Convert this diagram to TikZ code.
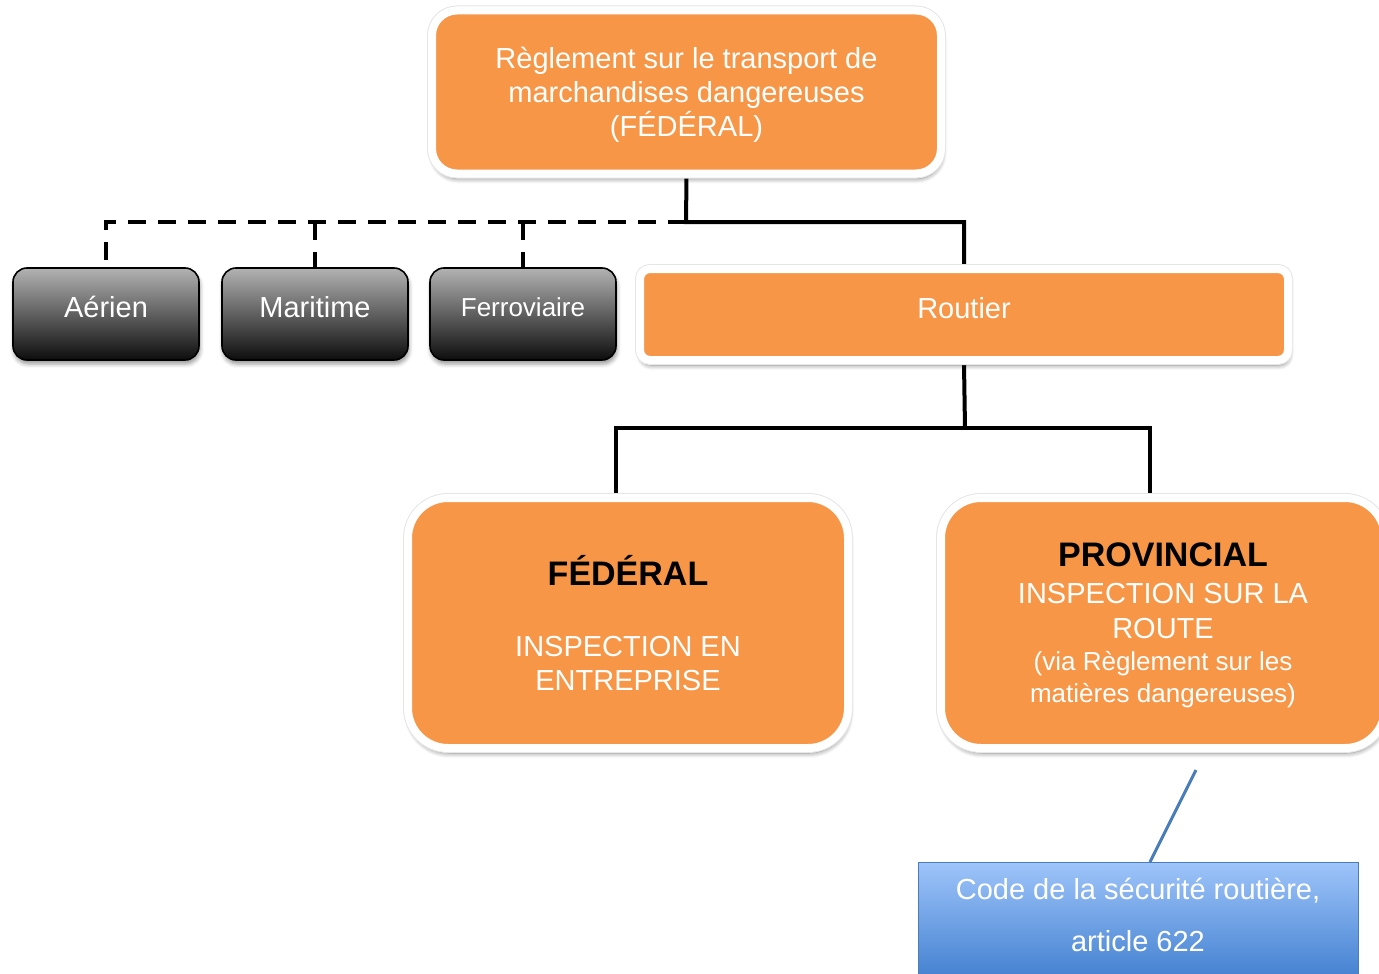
\documentclass[tikz,border=0pt]{standalone}
\usepackage{fontspec}
\setmainfont{Liberation Sans}
\usetikzlibrary{shadows,shadows.blur,backgrounds,calc}
\definecolor{orng}{RGB}{247,150,70}
\definecolor{bluetop}{RGB}{158,196,250}
\definecolor{bluebot}{RGB}{58,122,204}
\definecolor{blueline}{RGB}{74,126,187}
\tikzset{
  shad/.style={blur shadow={shadow xshift=1pt, shadow yshift=-5pt, shadow blur radius=5pt, shadow opacity=50, shadow blur steps=8}},
  obox/.style={rounded corners=#1, fill=orng, draw=white, line width=8pt, shad,
    preaction={draw=black!10, line width=10pt},
    text=white, align=center, font=\fontsize{29}{34}\selectfont, inner sep=4pt},
  gbox/.style={rounded corners=14pt, top color=gray!60, bottom color=black!95, draw=black,
    line width=1.6pt, blur shadow={shadow xshift=1pt, shadow yshift=-4pt, shadow blur radius=4pt, shadow opacity=40},
    text=white, minimum width=186pt, minimum height=92pt, text depth=14pt,
    font=\fontsize{29}{33}\selectfont},
  conn/.style={line width=4pt, draw=black},
  dconn/.style={line width=4pt, draw=black, dash pattern=on 18pt off 12pt},
  bbox/.style={top color=bluetop, bottom color=bluebot, draw=blueline, line width=1pt,
    minimum width=440pt, minimum height=128pt},
  btext/.style={text=white, align=center, font=\fontsize{29}{33}\selectfont},
}
\begin{document}
\begin{tikzpicture}[x=1pt,y=-1pt]
\useasboundingbox (0,0) rectangle (1379,974);
\clip (0,0) rectangle (1379,974);

\node[obox=25pt, minimum width=509pt, minimum height=163pt, text depth=0pt] (top) at (686.5,92)
  {Règlement sur le transport de\\marchandises dangereuses\\(FÉDÉRAL)};

\node[gbox] (aerien) at (106,314) {Aérien};
\node[gbox] (maritime) at (315,314) {Maritime};
\node[gbox, font=\fontsize{26}{30}\selectfont] (ferro) at (523,314) {Ferroviaire};

\node[obox=10pt, minimum width=648pt, minimum height=91pt, text depth=14pt] (routier) at (964,314.5) {Routier};

\node[obox=40pt, minimum width=440pt, minimum height=250pt] (federal) at (628,623)
  {{\bfseries\color{black}\fontsize{34}{34}\selectfont FÉDÉRAL}\\[37pt]INSPECTION EN\\ENTREPRISE};

\node[obox=40pt, minimum width=444pt, minimum height=250pt, text depth=-1pt] (prov) at (1163,623)
  {{\bfseries\color{black}\fontsize{34}{34}\selectfont PROVINCIAL}\\[3pt]INSPECTION SUR LA\\[1pt]ROUTE\\[-2pt]
   {\fontsize{26}{31}\selectfont (via Règlement sur les}\\[-2pt]{\fontsize{26}{31}\selectfont matières dangereuses)}};

\node[bbox, anchor=north] (code) at (1138,862) {};
\node[btext] (codetext) at (1138,915) {Code de la sécurité routière,\\[19pt]article 622};

\coordinate (bus) at (686,222);
\coordinate (bus2) at (965,428);
\coordinate (tip) at (1196,770);

\begin{scope}[on background layer]
\draw[conn] (top.south) -- (bus) -| (routier.north);
\draw[dconn] (bus) -| (aerien.north);
\draw[dconn] (maritime.north |- bus) -- (maritime.north);
\draw[dconn] (ferro.north |- bus) -- (ferro.north);
\draw[conn] (routier.south) -- (bus2);
\draw[conn] ([xshift=-12pt]federal.north) -- ([xshift=-12pt]federal.north |- bus2)
  -- ([xshift=-13pt]prov.north |- bus2) -- ([xshift=-13pt]prov.north);
\end{scope}
\draw[blueline, line width=3pt] ([xshift=12pt]code.north) -- (tip);
\end{tikzpicture}
\end{document}
